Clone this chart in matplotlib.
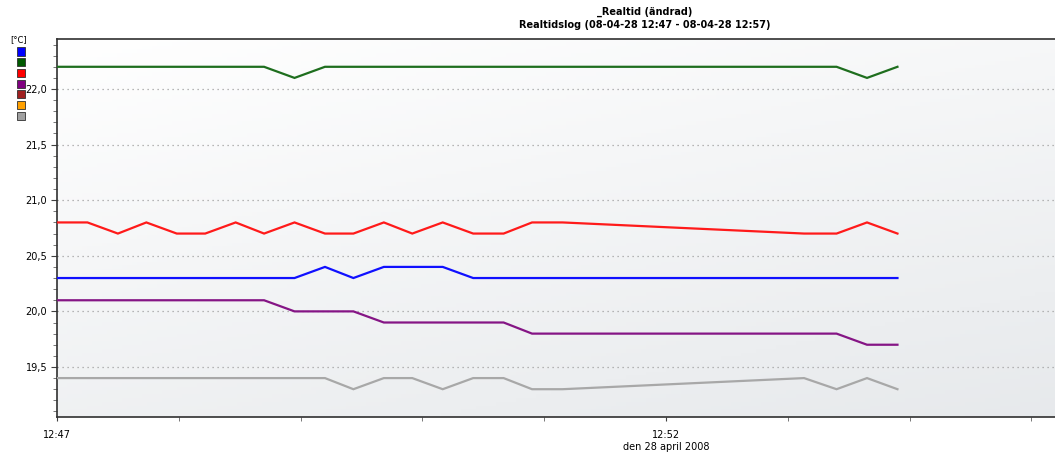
import numpy as np
import matplotlib
matplotlib.use("Agg")
import matplotlib.pyplot as plt
from matplotlib.patches import Rectangle
from matplotlib.ticker import MultipleLocator, FuncFormatter

# sample times, seconds after 12:47:00
t_sec = [0, 15, 30, 44, 59, 73, 88, 102, 117, 132, 146, 161, 175, 190,
         205, 220, 234, 249, 368, 384, 399, 414]

blue   = [20.3, 20.3, 20.3, 20.3, 20.3, 20.3, 20.3, 20.3, 20.3, 20.4, 20.3,
          20.4, 20.4, 20.4, 20.3, 20.3, 20.3, 20.3, 20.3, 20.3, 20.3, 20.3]
green  = [22.2, 22.2, 22.2, 22.2, 22.2, 22.2, 22.2, 22.2, 22.1, 22.2, 22.2,
          22.2, 22.2, 22.2, 22.2, 22.2, 22.2, 22.2, 22.2, 22.2, 22.1, 22.2]
red    = [20.8, 20.8, 20.7, 20.8, 20.7, 20.7, 20.8, 20.7, 20.8, 20.7, 20.7,
          20.8, 20.7, 20.8, 20.7, 20.7, 20.8, 20.8, 20.7, 20.7, 20.8, 20.7]
purple = [20.1, 20.1, 20.1, 20.1, 20.1, 20.1, 20.1, 20.1, 20.0, 20.0, 20.0,
          19.9, 19.9, 19.9, 19.9, 19.9, 19.8, 19.8, 19.8, 19.8, 19.7, 19.7]
gray   = [19.4, 19.4, 19.4, 19.4, 19.4, 19.4, 19.4, 19.4, 19.4, 19.4, 19.3,
          19.4, 19.4, 19.3, 19.4, 19.4, 19.3, 19.3, 19.4, 19.3, 19.4, 19.3]

legend_colors = ["#0000ff", "#005a00", "#ff0000", "#800080", "#a02020", "#ffa000", "#a0a0a0"]
series = [(blue, "#1010ff"), (green, "#1e6e1e"), (red, "#ff1a1a"),
          (purple, "#851585"), (gray, "#a8a8a8")]

W, H = 1055, 455
fig = plt.figure(figsize=(W / 100, H / 100), dpi=100)
fig.patch.set_facecolor("white")
ax = fig.add_axes([57 / W, 1 - 417 / H, 1 - 57 / W, (417 - 39) / H])

# background gradient, white at top-left to light grey at bottom-right
yy, xx = np.mgrid[0:1:100j, 0:1:200j]
g = 0.35 * xx + 0.65 * yy
c0 = np.array([1.0, 1.0, 1.0])
c1 = np.array([0.905, 0.915, 0.925])
img = c0 + (c1 - c0) * g[..., None]
ax.imshow(img, extent=[0, 1, 0, 1], transform=ax.transAxes, aspect="auto",
          zorder=0, origin="upper")

for vals, col in series:
    ax.plot(t_sec, vals, color=col, lw=1.6, zorder=3, solid_joinstyle="miter")

ax.set_xlim(0, 491.6)
ax.set_ylim(19.05, 22.45)

ax.yaxis.set_major_locator(MultipleLocator(0.5))
ax.yaxis.set_minor_locator(MultipleLocator(0.1))
ax.yaxis.set_major_formatter(FuncFormatter(lambda v, p: f"{v:.1f}".replace(".", ",")))
ax.xaxis.set_major_locator(MultipleLocator(300))
ax.xaxis.set_minor_locator(MultipleLocator(60))
ax.xaxis.set_major_formatter(FuncFormatter(lambda v, p: {0: "12:47", 300: "12:52"}.get(int(round(v)), "")))

ax.grid(axis="y", which="major", color="#a0a0a0", ls=(0, (1, 3)), lw=0.9, zorder=1)
ax.tick_params(axis="both", which="major", labelsize=7, length=4, width=0.8, color="#404040", pad=3)
ax.tick_params(axis="both", which="minor", length=3, width=0.6, color="#606060")
ax.tick_params(axis="x", which="major", length=3, pad=6)

for s in ["left", "bottom", "top"]:
    ax.spines[s].set_color("#303030")
    ax.spines[s].set_linewidth(1.2)
ax.spines["right"].set_visible(False)

# x-axis date label under 12:52
ax.text(300, -0.065, "den 28 april 2008", transform=ax.get_xaxis_transform(),
        ha="center", va="top", fontsize=7)

fig.text(645 / W, 1 - 12 / H, "_Realtid (ändrad)", ha="center", va="center",
         fontsize=7, fontweight="bold")
fig.text(645 / W, 1 - 25 / H, "Realtidslog (08-04-28 12:47 - 08-04-28 12:57)",
         ha="center", va="center", fontsize=7, fontweight="bold")

# unit label and colour swatches
fig.text(10 / W, 1 - 40 / H, "[°C]", ha="left", va="center", fontsize=6)
for i, col in enumerate(legend_colors):
    y0 = 47.5 + i * 10.7
    fig.patches.append(Rectangle((16.5 / W, 1 - (y0 + 8) / H), 8 / W, 8 / H,
                                 transform=fig.transFigure, facecolor=col,
                                 edgecolor="#303030", lw=0.6))

fig.savefig("out.png", dpi=100)
